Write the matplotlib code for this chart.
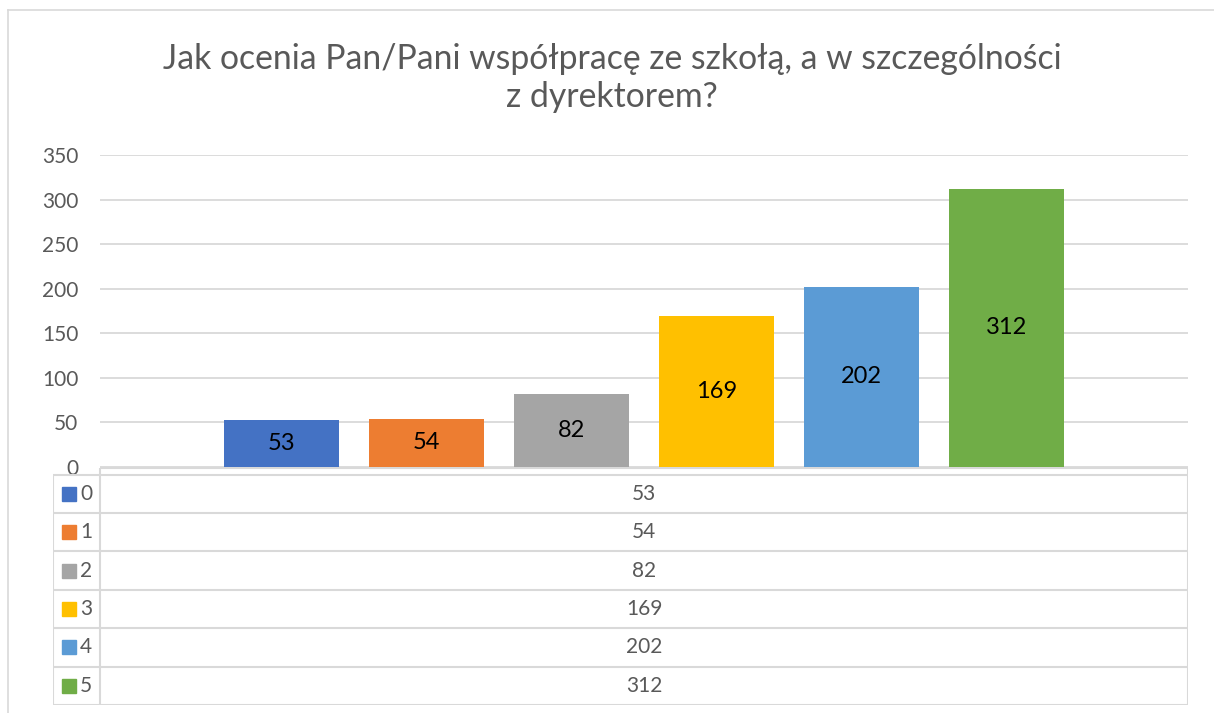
import matplotlib
matplotlib.use("Agg")
import matplotlib.pyplot as plt
from matplotlib.lines import Line2D
from matplotlib.patches import Rectangle

plt.rcParams['font.family'] = ['Lato', 'DejaVu Sans']

title = "Jak ocenia Pan/Pani współpracę ze szkołą, a w szczególności\nz dyrektorem?"
series = ["0", "1", "2", "3", "4", "5"]
values = [53, 54, 82, 169, 202, 312]
colors = ["#4472C4", "#ED7D31", "#A5A5A5", "#FFC000", "#5B9BD5", "#70AD47"]
yticks = [0, 50, 100, 150, 200, 250, 300, 350]

W, H = 1214, 713
fig = plt.figure(figsize=(W / 100, H / 100), dpi=100)
grey = "#595959"
grid = "#d9d9d9"

def fx(px):
    return px / W

def fy(py):
    return 1 - py / H

# chart border (left and top only visible)
fig.add_artist(Line2D([fx(8), fx(8)], [fy(10), 0], color=grid, lw=1.2))
fig.add_artist(Line2D([fx(8), 1], [fy(10), fy(10)], color=grid, lw=1.2))

fig.text(0.504, fy(78), title, ha='center', va='center', fontsize=24.3,
         color=grey, linespacing=1.25)

# main plot
ax = fig.add_axes([fx(100), fy(467), fx(1188) - fx(100), fy(155) - fy(467)])
pos = list(range(len(values)))
for i, (v, c) in enumerate(zip(values, colors)):
    bars = ax.bar(pos[i], v, width=0.79, color=c, zorder=3)
    ax.bar_label(bars, label_type='center', fontsize=17, color='black')
ax.set_xlim(-1.25, len(values) - 1 + 1.25)
ax.set_ylim(0, 350)
ax.set_yticks(yticks)
ax.set_xticks([])
ax.yaxis.grid(True, color=grid, lw=1.3, zorder=0)
for s in ax.spines.values():
    s.set_visible(False)
ax.tick_params(axis='y', length=0, pad=15.5, labelsize=15, labelcolor=grey)

# data table
tab = fig.add_axes([fx(53), fy(705), fx(1188) - fx(53), fy(467) - fy(705)])
tab.set_xlim(53, 1188)
tab.set_ylim(705, 467)
tab.axis('off')
lc = dict(color=grid, lw=1.5, solid_capstyle='butt')
top = 474.5
rowh = (705 - top) / len(series)
tab.plot([100, 1188], [467.5, 467.5], **lc)
tab.plot([100, 100], [467.5, 705], **lc)
tab.plot([1188, 1188], [467.5, 705], **lc)
tab.plot([53, 53], [top, 705], **lc)
for i in range(len(series) + 1):
    y = top + i * rowh
    tab.plot([53, 1188], [y, y], **lc)
for i, (name, v, c) in enumerate(zip(series, values, colors)):
    yc = top + (i + 0.5) * rowh
    tab.add_patch(Rectangle((62, yc - 7), 14, 14, color=c))
    tab.text(80, yc, name, ha='left', va='center', fontsize=15, color=grey)
    tab.text((100 + 1188) / 2, yc, str(v), ha='center', va='center',
             fontsize=15, color=grey)

fig.savefig("out.png", dpi=100)
